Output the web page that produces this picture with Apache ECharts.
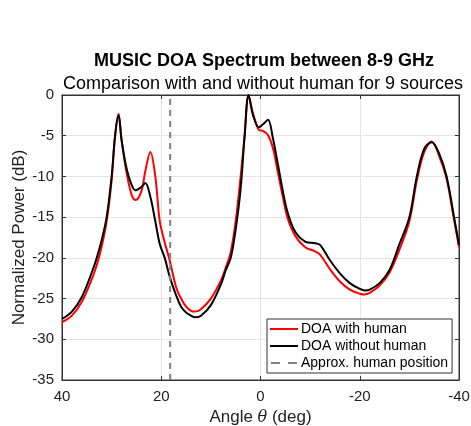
<!DOCTYPE html>
<html><head><meta charset="utf-8">
<script src="https://cdn.jsdelivr.net/npm/echarts@6/dist/echarts.min.js"></script>
<style>html,body{margin:0;padding:0;background:#fff}#c{width:471px;height:426px}</style>
</head><body><div id="c"></div>
<script>
const angles = [40,38,36,34,33,32,31,30,29.3,28.6,28,27,26,25.2,24,23.2,22.2,21.2,20.3,19.3,18.3,17,16,15,14,13.2,12,10,8,7,6,5,4,3.2,2.4,1.5,0.3,-0.5,-1.5,-2.5,-3.5,-4.5,-5.5,-7,-9,-11,-12,-14,-16,-18,-20,-21,-22,-24,-26,-28,-30,-31.5,-33,-34.5,-36,-37.5,-39,-40];
const withHuman = [-27.9,-27.1,-25.4,-22.6,-20.9,-18.6,-15.5,-10.5,-5.0,-2.3,-5.5,-9.5,-12.2,-12.9,-11.8,-9.3,-7.0,-10.0,-15.5,-18.1,-20.3,-23.6,-25.0,-26.0,-26.5,-26.6,-26.3,-25.0,-22.8,-21.2,-19.3,-15.5,-10.0,-5.0,-0.1,-2.3,-4.3,-4.4,-4.9,-6.5,-9.5,-12.5,-15.2,-17.3,-18.7,-19.2,-19.6,-21.4,-22.9,-23.9,-24.4,-24.5,-24.3,-23.4,-21.8,-19.0,-15.5,-10.5,-7.0,-5.7,-7.5,-10.3,-15.3,-18.7];
const withoutHuman = [-27.5,-26.6,-24.8,-21.8,-20.0,-17.8,-15.0,-10.0,-5.0,-2.5,-5.5,-9.0,-11.0,-11.7,-11.3,-10.8,-12.5,-15.5,-18.3,-20.0,-22.3,-24.6,-26.0,-26.7,-27.1,-27.3,-27.1,-25.8,-23.3,-21.5,-20.0,-16.5,-11.5,-5.0,0.0,-2.5,-3.96,-3.6,-3.05,-5.3,-8.5,-11.8,-14.5,-16.8,-18.0,-18.2,-18.4,-20.3,-21.9,-23.1,-23.8,-24.0,-23.9,-23.1,-21.5,-18.3,-15.0,-10.0,-6.6,-5.8,-7.2,-10.0,-15.0,-18.4];
const humanAngle = 18.2;
const humanSpan = [-35, 0];
const xRange = [-40, 40], xStep = 20;
const yRange = [-35, 0], yStep = 5;

const pair = (xs, ys) => xs.map((x, i) => [x, ys[i]]);
const axisCol = '#333';
const font = 'Liberation Sans, Arial, sans-serif';
const lineIcon = 'path://M0,0h28v2h-28z';
const dashIcon = 'path://M0,0h9v2h-9z M17,0h9v2h-9z';
const baseX = {
  type: 'value', inverse: true, min: xRange[0], max: xRange[1], interval: xStep,
  axisLine: {onZero: false, lineStyle: {color: axisCol}},
  axisTick: {inside: true, length: 4, lineStyle: {color: axisCol}}
};
const baseY = {
  type: 'value', min: yRange[0], max: yRange[1], interval: yStep,
  axisLine: {onZero: false, lineStyle: {color: axisCol}},
  axisTick: {inside: true, length: 4, lineStyle: {color: axisCol}}
};
const chart = echarts.init(document.getElementById('c'));
chart.setOption({
  animation: false,
  title: [
    {text: 'MUSIC DOA Spectrum between 8-9 GHz', left: 259, top: 47, textAlign: 'center',
     textStyle: {fontFamily: font, fontSize: 18, fontWeight: 'bold', color: '#000'}},
    {text: 'Comparison with and without human for 9 sources', left: 258, top: 70, textAlign: 'center',
     textStyle: {fontFamily: font, fontSize: 18, fontWeight: 'normal', color: '#000'}}
  ],
  grid: {left: 62, right: 12, top: 95, bottom: 46, show: true, borderColor: axisCol, borderWidth: 1,
         containLabel: false, outerBoundsMode: 'none'},
  legend: {
    orient: 'vertical', left: 267, top: 319,
    backgroundColor: '#fff', borderColor: axisCol, borderWidth: 1, padding: [3, 4, 3, 3],
    itemWidth: 28, itemHeight: 2, itemGap: 3,
    textStyle: {fontFamily: font, fontSize: 14, color: '#000', padding: [0, 0, 0, -2]},
    data: [
      {name: 'DOA with human', icon: lineIcon},
      {name: 'DOA without human', icon: lineIcon},
      {name: 'Approx. human position', icon: dashIcon}
    ]
  },
  xAxis: [
    Object.assign({}, baseX, {
      position: 'bottom',
      name: 'Angle {i|θ} (deg)', nameLocation: 'middle', nameGap: 29, nameMoveOverlap: false,
      nameTextStyle: {fontFamily: font, fontSize: 17, color: '#222', rich: {i: {fontStyle: 'italic', fontFamily: 'DejaVu Serif, serif', fontSize: 16, color: '#222'}}},
      axisLabel: {fontFamily: font, fontSize: 15, color: '#222', margin: 9},
      splitLine: {lineStyle: {color: '#e4e4e4'}}
    }),
    Object.assign({}, baseX, {position: 'top', axisLabel: {show: false}, splitLine: {show: false}})
  ],
  yAxis: [
    Object.assign({}, baseY, {
      position: 'left',
      name: 'Normalized Power (dB)', nameLocation: 'middle', nameGap: 34, nameMoveOverlap: false,
      nameTextStyle: {fontFamily: font, fontSize: 17, color: '#222'},
      axisLabel: {fontFamily: font, fontSize: 15, color: '#222', margin: 8},
      splitLine: {lineStyle: {color: '#e4e4e4'}}
    }),
    Object.assign({}, baseY, {position: 'right', axisLabel: {show: false}, splitLine: {show: false}})
  ],
  series: [
    {name: 'DOA with human', type: 'line', data: pair(angles, withHuman), smooth: 0.35,
     showSymbol: false, symbol: 'none', z: 2, lineStyle: {color: '#ff0000', width: 2}, itemStyle: {color: '#ff0000'}},
    {name: 'DOA without human', type: 'line', data: pair(angles, withoutHuman), smooth: 0.35,
     showSymbol: false, symbol: 'none', z: 3, lineStyle: {color: '#000', width: 2}, itemStyle: {color: '#000'}},
    {name: 'Approx. human position', type: 'line', data: humanSpan.map(v => [humanAngle, v]),
     showSymbol: false, symbol: 'none', z: 4, lineStyle: {color: '#808080', width: 2, type: [6, 5]}, itemStyle: {color: '#808080'}}
  ]
});
</script></body></html>
